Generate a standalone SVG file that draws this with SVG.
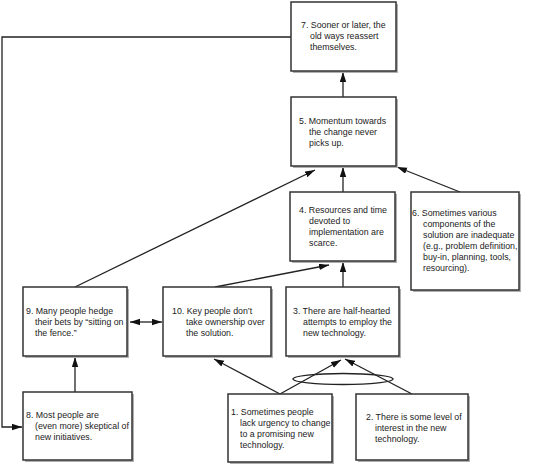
<svg xmlns="http://www.w3.org/2000/svg" width="550" height="468" viewBox="0 0 550 468">
<style>
.bx{fill:#fff;stroke:#333;stroke-width:1.5}
.sh{fill:#b0b0b0}
.t{font-family:"Liberation Sans",Arial,sans-serif;font-size:8.8px;fill:#222}
.c{fill:none;stroke:#222;stroke-width:1.3}
</style>
<defs>
<marker id="ah" markerUnits="userSpaceOnUse" markerWidth="11" markerHeight="7" refX="10" refY="3.2" orient="auto-start-reverse">
<path d="M0,0 L10,3.2 L0,6.4 z" fill="#111"/>
</marker>
</defs>
<rect width="550" height="468" fill="#fff"/>
<g id="connectors">
<polyline class="c" points="291,37 2,37 2,427 22,427" marker-end="url(#ah)"/>
<line class="c" x1="343" y1="97" x2="343" y2="72" marker-end="url(#ah)"/>
<line class="c" x1="343" y1="192" x2="343" y2="167" marker-end="url(#ah)"/>
<line class="c" x1="460" y1="192" x2="397" y2="167" marker-end="url(#ah)"/>
<line class="c" x1="75" y1="287" x2="315" y2="170" marker-end="url(#ah)"/>
<line class="c" x1="215" y1="287" x2="329" y2="265" marker-end="url(#ah)"/>
<line class="c" x1="343" y1="287" x2="343" y2="262" marker-end="url(#ah)"/>
<line class="c" x1="130" y1="322" x2="162" y2="322" marker-start="url(#ah)" marker-end="url(#ah)"/>
<line class="c" x1="75" y1="392" x2="75" y2="357" marker-end="url(#ah)"/>
<line class="c" x1="280" y1="394" x2="214" y2="359" marker-end="url(#ah)"/>
<line class="c" x1="280" y1="394" x2="341" y2="360" marker-end="url(#ah)"/>
<line class="c" x1="412" y1="394" x2="345" y2="359" marker-end="url(#ah)"/>
<ellipse class="c" cx="343" cy="379" rx="50" ry="5.5"/>
</g>
<g id="n7">
<rect class="sh" x="293" y="4" width="105" height="69"/>
<rect class="bx" x="291" y="2" width="105" height="69"/>
<text class="t" x="301" y="28">7. Sooner or later, the</text>
<text class="t" x="310" y="39">old ways reassert</text>
<text class="t" x="310" y="50">themselves.</text>
</g>
<g id="n5">
<rect class="sh" x="293" y="99" width="105" height="69"/>
<rect class="bx" x="291" y="97" width="105" height="69"/>
<text class="t" x="299" y="124">5. Momentum towards</text>
<text class="t" x="309" y="135">the change never</text>
<text class="t" x="309" y="146">picks up.</text>
</g>
<g id="n4">
<rect class="sh" x="292" y="194" width="105" height="69"/>
<rect class="bx" x="290" y="192" width="105" height="69"/>
<text class="t" x="299" y="213">4. Resources and time</text>
<text class="t" x="309" y="224">devoted to</text>
<text class="t" x="309" y="235">implementation are</text>
<text class="t" x="309" y="246">scarce.</text>
</g>
<g id="n6">
<rect class="sh" x="413" y="194" width="108" height="98"/>
<rect class="bx" x="411" y="192" width="108" height="98"/>
<text class="t" x="412" y="216">6. Sometimes various</text>
<text class="t" x="423" y="227">components of the</text>
<text class="t" x="423" y="238">solution are inadequate</text>
<text class="t" x="423" y="249">(e.g., problem definition,</text>
<text class="t" x="423" y="260">buy-in, planning, tools,</text>
<text class="t" x="423" y="271">resourcing).</text>
</g>
<g id="n9">
<rect class="sh" x="25" y="289" width="104" height="69"/>
<rect class="bx" x="23" y="287" width="104" height="69"/>
<text class="t" x="26" y="314">9. Many people hedge</text>
<text class="t" x="35" y="325">their bets by “sitting on</text>
<text class="t" x="35" y="336">the fence.”</text>
</g>
<g id="n10">
<rect class="sh" x="165" y="289" width="108" height="69"/>
<rect class="bx" x="163" y="287" width="108" height="69"/>
<text class="t" x="172" y="314">10. Key people don’t</text>
<text class="t" x="186" y="325">take ownership over</text>
<text class="t" x="186" y="336">the solution.</text>
</g>
<g id="n3">
<rect class="sh" x="288" y="289" width="113" height="69"/>
<rect class="bx" x="286" y="287" width="113" height="69"/>
<text class="t" x="293" y="314">3. There are half-hearted</text>
<text class="t" x="303" y="325">attempts to employ the</text>
<text class="t" x="303" y="336">new technology.</text>
</g>
<g id="n8">
<rect class="sh" x="25" y="394" width="109" height="68"/>
<rect class="bx" x="23" y="392" width="109" height="68"/>
<text class="t" x="26" y="418">8. Most people are</text>
<text class="t" x="35" y="429">(even more) skeptical of</text>
<text class="t" x="35" y="440">new initiatives.</text>
</g>
<g id="n1">
<rect class="sh" x="230" y="396" width="104" height="68"/>
<rect class="bx" x="228" y="394" width="104" height="68"/>
<text class="t" x="231" y="415">1. Sometimes people</text>
<text class="t" x="240" y="426">lack urgency to change</text>
<text class="t" x="240" y="437">to a promising new</text>
<text class="t" x="240" y="448">technology.</text>
</g>
<g id="n2">
<rect class="sh" x="358" y="396" width="112" height="66"/>
<rect class="bx" x="356" y="394" width="112" height="66"/>
<text class="t" x="366" y="420">2. There is some level of</text>
<text class="t" x="375" y="431">interest in the new</text>
<text class="t" x="375" y="442">technology.</text>
</g>
</svg>
